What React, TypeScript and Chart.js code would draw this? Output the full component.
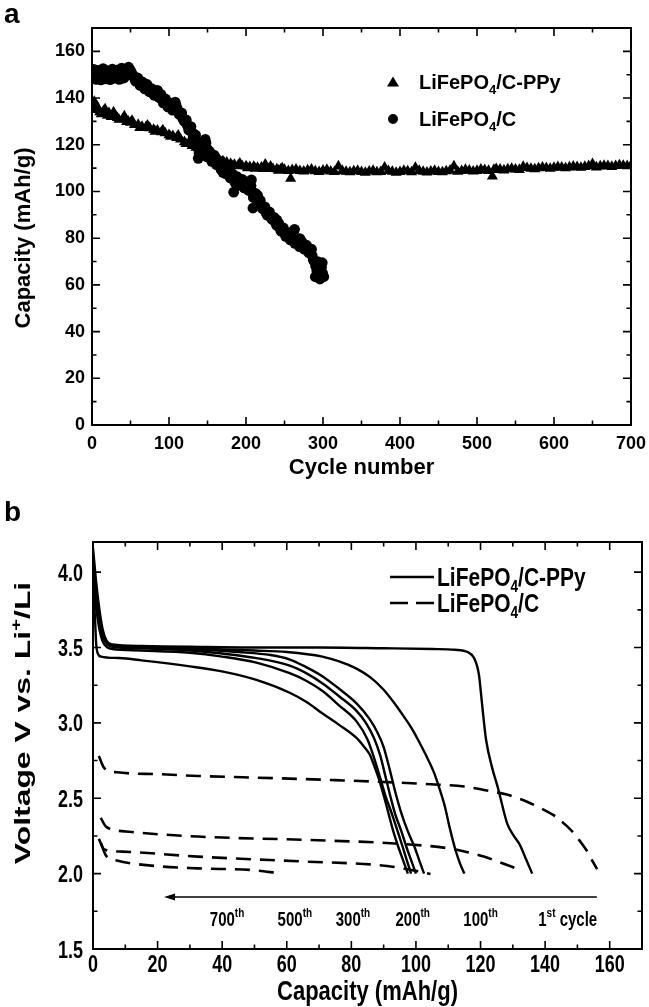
import React, { useEffect, useRef } from "react";
import { Chart, registerables } from "chart.js";

Chart.register(...registerables);

const FONT = "'Liberation Sans', Arial, Helvetica, sans-serif";

// ---------------- Panel a : capacity vs cycle number ----------------
const cycleTicks = [0, 100, 200, 300, 400, 500, 600, 700];
const capacityTicks = [0, 20, 40, 60, 80, 100, 120, 140, 160];

// LiFePO4/C-PPy (triangles): [cycle, capacity]
const ppyPoints: [number, number][] = [
  [0, 137.5], [2, 135.5], [3, 138.5], [5, 135], [7, 136.2], [10, 134], [12, 133.2], [15, 134.5], [17, 135.2],
  [20, 132.5], [22, 133.6], [25, 132], [28, 134], [30, 132.5], [33, 131.5], [35, 130.8], [40, 131], [42, 132.3],
  [45, 129.8], [47, 130], [50, 129.5], [52, 130.3], [55, 128.5], [60, 128.6], [62, 127.3], [65, 127.8], [70, 127.5],
  [72, 128.3], [75, 127.2], [80, 126.5], [82, 125.7], [85, 126.2], [90, 125.4], [92, 126.3], [95, 125], [100, 124.2],
  [102, 123.5], [105, 123.8], [110, 123], [112, 124], [115, 122.3], [120, 121.2], [122, 120.4], [125, 120.5],
  [130, 119.6], [132, 120], [135, 118.8], [140, 117.9], [142, 117], [145, 117.2], [150, 116.2], [152, 115.5],
  [155, 115.3], [160, 114.4], [162, 113.8], [165, 113.6], [170, 113], [172, 112.2], [175, 112.4], [180, 111.9],
  [182, 111], [185, 111.5], [190, 111.3], [192, 112], [195, 110.9], [200, 110.8], [202, 110], [205, 110.5],
  [210, 110.6], [212, 109.8], [215, 110.2], [220, 110.3], [222, 109.7], [225, 111.6], [230, 109.9], [232, 110.7],
  [235, 109.7], [240, 109.6], [242, 109], [245, 109.4], [247, 110], [250, 109.3], [255, 108.8], [258, 105.5],
  [260, 109.2], [265, 109.5], [270, 108.8], [275, 108.6], [280, 109.1], [285, 109.5], [290, 108.7], [295, 108.4],
  [300, 109], [305, 109.3], [310, 108.6], [315, 108.4], [320, 110.8], [325, 108.9], [330, 108.5], [335, 108.3],
  [340, 108.7], [345, 108.9], [350, 108.4], [355, 108.1], [360, 108.6], [365, 108.9], [370, 108.3], [375, 108.4],
  [380, 110.3], [385, 108.8], [390, 108.5], [395, 108.1], [400, 108.4], [405, 108.9], [410, 108.7], [415, 108.3],
  [420, 110.2], [425, 108.9], [430, 108.5], [435, 108.2], [440, 108.6], [445, 108.9], [450, 108.4], [455, 108.3],
  [460, 108.7], [465, 109], [470, 110.8], [475, 108.5], [480, 108.8], [485, 109.3], [490, 109], [495, 108.6],
  [500, 108.9], [505, 109.5], [510, 109.2], [515, 108.9], [520, 106.5], [522, 109.3], [525, 109.7], [530, 109.4],
  [535, 109.1], [540, 109.6], [545, 109.8], [550, 109.5], [555, 109.3], [560, 110.6], [565, 110.1], [570, 109.8],
  [575, 109.6], [580, 110], [585, 110.3], [590, 110.1], [595, 109.8], [600, 110.2], [605, 110.5], [610, 110.3],
  [615, 110], [620, 110.4], [625, 110.7], [630, 110.5], [635, 110.2], [640, 110.6], [645, 110.9], [650, 111.8],
  [655, 110.4], [660, 110.8], [665, 111.1], [670, 110.9], [675, 110.6], [680, 111], [685, 111.3], [690, 111.1],
  [695, 110.9], [700, 111.2],
];

// LiFePO4/C (circles): [cycle, capacity]
const carbonPoints: [number, number][] = [
  [1, 149.5], [4, 150.5], [7, 149], [10, 151], [13, 150], [16, 151], [19, 149], [22, 150.8], [25, 149.8], [28, 151.3],
  [31, 149.5], [34, 151], [37, 149.3], [40, 151.5], [43, 150.3], [46, 152], [49, 152.3], [52, 150.3], [55, 148.5],
  [58, 147.5], [61, 146.8], [64, 146], [67, 145], [70, 144.5], [73, 143.8], [76, 143], [79, 142.3], [82, 141.8],
  [85, 142.5], [88, 140.2], [91, 139.3], [94, 138.5], [97, 137.3], [100, 136.5], [103, 135.8], [106, 136], [109, 137.2],
  [112, 134.2], [115, 132.8], [118, 131.3], [121, 129.8], [124, 128.3], [127, 127], [130, 125.3], [133, 123.5],
  [136, 120.8], [139, 116.5], [142, 118.3], [145, 119.5], [148, 120.8], [151, 116.3], [154, 114.5], [157, 114.8],
  [160, 113], [163, 112], [166, 111.2], [169, 110.3], [172, 109.5], [175, 108.8], [178, 107.8], [181, 106.5],
  [184, 105.5], [187, 105.8], [190, 104.5], [193, 104], [196, 103.3], [199, 102.8], [202, 101.8], [205, 104], [208, 100],
  [211, 98.5], [214, 97], [217, 95], [220, 94], [223, 92.5], [226, 91], [229, 90], [232, 89.3], [235, 88], [238, 87],
  [241, 85.5], [244, 84.3], [247, 83], [250, 82.3], [253, 81], [256, 80.3], [259, 79.8], [262, 83], [265, 79], [268, 78],
  [271, 77.3], [274, 76.8], [277, 76], [280, 75], [283, 74], [286, 72.5], [289, 70], [292, 66], [295, 64.5], [298, 67.5],
  [301, 63.5],
  [2, 148.3], [8, 151.8], [14, 148.5], [20, 151.6], [26, 148.4], [32, 152], [38, 148.6], [44, 152.5], [47, 151],
  [138, 114.2], [184, 99.7], [209, 92.9], [108, 138.3], [85, 143.3], [147, 122.3], [207, 105], [263, 83.8], [296, 62.5],
  [299, 69.5], [293, 70], [290, 63.5], [150, 118], [170, 108.2], [195, 105.2], [215, 98.3], [240, 87.8], [270, 79.8],
  [285, 75.3],
  [2.5, 152.3], [5.5, 148], [8.5, 150.2], [11.5, 147.8], [14.5, 152.6], [17.5, 148.2], [20.5, 150], [23.5, 147.9],
  [26.5, 152.4], [29.5, 148.5], [32.5, 150.3], [35.5, 148], [38.5, 152.8], [41.5, 148.6], [44.5, 150.8], [47.5, 153.2],
  [50.5, 151.5], [53.5, 149.6], [56.5, 147.2], [59.5, 148.6], [62.5, 145.4], [65.5, 146.9], [68.5, 143.9], [71.5, 145.8],
  [74.5, 142.7], [77.5, 144], [80.5, 141.2], [83.5, 143.1], [86.5, 140.4], [89.5, 141.6], [92.5, 137.9], [95.5, 139.6],
  [98.5, 136.2], [101.5, 137.8], [104.5, 134.8], [107.5, 137.6], [110.5, 135.6], [113.5, 133], [116.5, 133.6],
  [119.5, 130.2], [122.5, 130.6], [125.5, 126.4], [128.5, 127.8], [131.5, 123.2], [134.5, 124.2], [137.5, 118.5],
  [140.5, 121], [143.5, 116.8], [146.5, 118], [149.5, 114.8], [152.5, 117.2], [155.5, 112.9], [158.5, 115.6],
  [161.5, 111.5], [164.5, 113.2], [167.5, 109.4], [170.5, 111.3], [173.5, 107.6], [176.5, 109.7], [179.5, 105.8],
  [182.5, 107.6], [185.5, 103.9], [188.5, 106.3], [191.5, 102.7], [194.5, 104.9], [197.5, 101.5], [200.5, 103.9],
  [203.5, 100.4], [206.5, 102.4], [209.5, 97.4], [212.5, 99.2], [215.5, 95.3], [218.5, 96.2], [221.5, 92.6],
  [224.5, 93.4], [227.5, 89.8], [230.5, 91.2], [233.5, 88.1], [236.5, 88.9], [239.5, 85.6], [242.5, 86.4], [245.5, 83],
  [248.5, 84.4], [251.5, 80.8], [254.5, 82.4], [257.5, 79.2], [260.5, 81.4], [263.5, 77.8], [266.5, 79.7], [269.5, 76.4],
  [272.5, 78.4], [275.5, 75.3], [278.5, 77], [281.5, 73.8], [284.5, 74.9], [287.5, 70.6], [290.5, 68], [293.5, 63.2],
  [296.5, 66.6], [299.5, 65],
];

// ---------------- Panel b : discharge curves ----------------
const capacityTicksB = [0, 20, 40, 60, 80, 100, 120, 140, 160];
const voltageTicks = [1.5, 2.0, 2.5, 3.0, 3.5, 4.0];

// LiFePO4/C-PPy (solid) [capacity, voltage]
const ppyCycle1: [number, number][] = [
  [0, 4.16], [1, 3.93], [2, 3.75], [3, 3.62], [4.2, 3.545], [6, 3.52], [15, 3.51], [30, 3.505], [50, 3.5], [70, 3.5],
  [90, 3.495], [105, 3.49], [112, 3.485], [116, 3.47], [118, 3.43], [119.5, 3.32], [120.5, 3.12], [121.7, 2.89],
  [123.5, 2.71], [125.5, 2.56], [127, 2.43], [128.3, 2.33], [130, 2.26], [132.2, 2.19], [134, 2.1], [136, 2.0],
];
const ppyCycle100: [number, number][] = [
  [0, 4.1], [1, 3.88], [2, 3.7], [3, 3.6], [4.2, 3.54], [6, 3.51], [15, 3.505], [30, 3.495], [50, 3.48], [60, 3.47],
  [71, 3.44], [76, 3.41], [81.6, 3.36], [86, 3.3], [90, 3.22], [93, 3.14], [96, 3.05], [98.5, 2.97], [100.6, 2.89],
  [103, 2.79], [105.6, 2.67], [107.5, 2.55], [108.9, 2.45], [110.5, 2.3], [112.2, 2.16], [113.6, 2.07], [115, 2.0],
];
const ppyCycle200: [number, number][] = [
  [0, 4.05], [1, 3.84], [2, 3.68], [3, 3.58], [4.5, 3.53], [6, 3.51], [15, 3.5], [30, 3.49], [45, 3.47], [55, 3.45],
  [61, 3.42], [66, 3.37], [71, 3.31], [76, 3.23], [81.6, 3.13], [85.5, 3.03], [88, 2.94], [90, 2.84], [92, 2.68],
  [93.5, 2.55], [95.5, 2.4], [97.5, 2.28], [99.5, 2.18], [101, 2.09], [102.5, 2.0],
];
const ppyCycle300: [number, number][] = [
  [0, 4.0], [1, 3.8], [2, 3.65], [3, 3.57], [4.5, 3.52], [6, 3.505], [15, 3.495], [30, 3.48], [40, 3.46], [50.6, 3.43],
  [60.9, 3.38], [66, 3.33], [71.2, 3.26], [76, 3.18], [81.6, 3.08], [84.5, 3.0], [87, 2.9], [89, 2.78], [90.5, 2.65],
  [92, 2.52], [93.5, 2.4], [95.5, 2.28], [97, 2.18], [98.5, 2.09], [100, 2.0],
];
const ppyCycle500: [number, number][] = [
  [0, 3.95], [1, 3.76], [2, 3.62], [3, 3.54], [4.5, 3.5], [6, 3.49], [15, 3.48], [30, 3.465], [40, 3.44], [50.6, 3.4],
  [60.9, 3.33], [66, 3.28], [71.2, 3.21], [76, 3.12], [81.6, 3.01], [85, 2.89], [87, 2.77], [89, 2.63], [90.5, 2.52],
  [92.5, 2.4], [94.5, 2.27], [96, 2.17], [97.3, 2.08], [98.5, 2.0],
];
const ppyCycle700: [number, number][] = [
  [0, 3.92], [0.6, 3.7], [1, 3.52], [1.5, 3.46], [2.5, 3.44], [8, 3.43], [15, 3.415], [30, 3.375], [40.3, 3.34],
  [50.6, 3.285], [60.9, 3.2], [66, 3.14], [71.2, 3.06], [76, 2.99], [81.6, 2.9], [84, 2.84], [85.7, 2.79], [87, 2.72],
  [88.5, 2.63], [90, 2.52], [91.5, 2.4], [93, 2.28], [94.5, 2.18], [96, 2.09], [97.5, 2.0],
];

// LiFePO4/C (dashed)
const carbonCurveA: [number, number][] = [
  [1.8, 2.78], [3.5, 2.7], [7.4, 2.672], [20, 2.66], [32.4, 2.648], [56.8, 2.633], [75, 2.62], [87.8, 2.61],
  [104.5, 2.593], [115, 2.578], [121.1, 2.555], [127.8, 2.526], [134.4, 2.477], [139, 2.43], [143.3, 2.378],
  [146.5, 2.32], [148.9, 2.268], [151, 2.21], [152.8, 2.155], [154.5, 2.09], [156.1, 2.03],
];
const carbonCurveB: [number, number][] = [
  [2.4, 2.37], [4.1, 2.31], [10.2, 2.28], [32.4, 2.246], [65.6, 2.224], [93.4, 2.2], [110, 2.168], [116, 2.142],
  [121, 2.113], [126, 2.075], [131, 2.035],
];
const carbonCurveC: [number, number][] = [
  [1.8, 2.23], [3.5, 2.16], [9.1, 2.146], [32.4, 2.113], [65.6, 2.08], [87.8, 2.058], [96, 2.035], [104.5, 1.998],
];
const carbonCurveD: [number, number][] = [
  [2.5, 2.2], [4, 2.12], [7.4, 2.087], [15.7, 2.058], [32.4, 2.035], [49, 2.024], [57.9, 2.002],
];

const ppyCurves = [ppyCycle1, ppyCycle100, ppyCycle200, ppyCycle300, ppyCycle500, ppyCycle700];
const carbonCurves = [carbonCurveA, carbonCurveB, carbonCurveC, carbonCurveD];

// cycle annotations
const cycleLabelMain = ["700", "500", "300", "200", "100", "1"];
const cycleLabelSup = ["th", "th", "th", "th", "th", "st"];
const cycleLabelTail = ["", "", "", "", "", " cycle"];
const cycleLabelCapacity = [41.5, 62.5, 80.5, 99, 120, 147];
const cycleLabelVoltage = 1.655;
const arrowFromCapacity = 156;
const arrowToCapacity = 22;
const arrowVoltage = 1.845;

// ---------------- helpers ----------------
type Part = { t: string; size: number; dy?: number };

function drawRich(ctx: CanvasRenderingContext2D, parts: Part[], x: number, y: number, align: "left" | "center" | "right", sx = 1, sy = 1) {
  ctx.save();
  ctx.translate(x, y);
  ctx.scale(sx, sy);
  const widths = parts.map((p) => {
    ctx.font = `bold ${p.size}px ${FONT}`;
    return ctx.measureText(p.t).width;
  });
  const total = widths.reduce((a, b) => a + b, 0);
  let cx = align === "left" ? 0 : align === "center" ? -total / 2 : -total;
  ctx.textAlign = "left";
  ctx.textBaseline = "alphabetic";
  parts.forEach((p, i) => {
    ctx.font = `bold ${p.size}px ${FONT}`;
    ctx.fillText(p.t, cx, p.dy || 0);
    cx += widths[i];
  });
  ctx.restore();
}

function mids(arr: number[]) {
  return arr.slice(1).map((v, i) => (v + arr[i]) / 2);
}

function drawFrame(chart: any, xMajor: number[], yMajor: number[], majorLen: number, minorLen: number) {
  const { ctx, chartArea: a } = chart;
  const xs = chart.scales.x;
  const ys = chart.scales.y;
  ctx.save();
  ctx.strokeStyle = "#000";
  ctx.lineWidth = 2;
  ctx.strokeRect(a.left, a.top, a.right - a.left, a.bottom - a.top);
  ctx.lineWidth = 1.6;
  ctx.beginPath();
  const xt = (v: number, len: number) => {
    const p = xs.getPixelForValue(v);
    ctx.moveTo(p, a.bottom);
    ctx.lineTo(p, a.bottom - len);
    ctx.moveTo(p, a.top);
    ctx.lineTo(p, a.top + len);
  };
  const yt = (v: number, len: number) => {
    const p = ys.getPixelForValue(v);
    ctx.moveTo(a.left, p);
    ctx.lineTo(a.left + len, p);
    ctx.moveTo(a.right, p);
    ctx.lineTo(a.right - len, p);
  };
  xMajor.forEach((v) => xt(v, majorLen));
  mids(xMajor).forEach((v) => xt(v, minorLen));
  yMajor.forEach((v) => yt(v, majorLen));
  mids(yMajor).forEach((v) => yt(v, minorLen));
  ctx.stroke();
  ctx.restore();
}

function baseScale(ticksArr: number[], min: number, max: number, size: number, pad: number, fit: (s: any) => void, showLabels = true) {
  return {
    type: "linear" as const,
    min,
    max,
    afterBuildTicks: (s: any) => {
      s.ticks = ticksArr.map((v) => ({ value: v }));
    },
    afterFit: (s: any) => {
      fit(s);
      s.paddingLeft = 0;
      s.paddingRight = 0;
      s.paddingTop = 0;
      s.paddingBottom = 0;
    },
    grid: { display: false, drawTicks: false },
    border: { display: false },
    ticks: {
      display: showLabels,
      color: "#000",
      padding: pad,
      autoSkip: false,
      maxRotation: 0,
      font: { family: FONT, size, weight: "bold" as const },
    },
  };
}

// ---------------- component ----------------
export default function App() {
  const topRef = useRef<HTMLCanvasElement | null>(null);
  const botRef = useRef<HTMLCanvasElement | null>(null);

  useEffect(() => {
    const topPlugin = {
      id: "topDecor",
      afterDraw(chart: any) {
        const { ctx, chartArea: a } = chart;
        drawFrame(chart, cycleTicks, capacityTicks, 8, 4.5);
        ctx.save();
        ctx.fillStyle = "#000";
        drawRich(ctx, [{ t: "a", size: 28 }], 4, 23, "left");
        drawRich(ctx, [{ t: "Cycle number", size: 22 }], (a.left + a.right) / 2, 474, "center");
        ctx.save();
        ctx.translate(30, 238);
        ctx.rotate(-Math.PI / 2);
        drawRich(ctx, [{ t: "Capacity (mAh/g)", size: 22 }], 0, 0, "center");
        ctx.restore();
        // legend
        const lx = 393;
        const r1 = 82;
        const r2 = 119;
        ctx.beginPath();
        ctx.moveTo(lx, r1 - 5.5);
        ctx.lineTo(lx + 6, r1 + 4.5);
        ctx.lineTo(lx - 6, r1 + 4.5);
        ctx.closePath();
        ctx.fill();
        ctx.beginPath();
        ctx.arc(lx, r2, 5, 0, Math.PI * 2);
        ctx.fill();
        drawRich(ctx, [{ t: "LiFePO", size: 20 }, { t: "4", size: 13, dy: 5 }, { t: "/C-PPy", size: 20 }], 419, r1 + 7, "left");
        drawRich(ctx, [{ t: "LiFePO", size: 20 }, { t: "4", size: 13, dy: 5 }, { t: "/C", size: 20 }], 419, r2 + 7, "left");
        ctx.restore();
      },
    };

    const STRETCH = 1.3;
    const botPlugin = {
      id: "botDecor",
      afterDraw(chart: any) {
        const { ctx, chartArea: a } = chart;
        const xs = chart.scales.x;
        const ys = chart.scales.y;
        drawFrame(chart, capacityTicksB, voltageTicks, 8, 4.5);
        ctx.save();
        ctx.fillStyle = "#000";
        ctx.strokeStyle = "#000";
        // tick labels (vertically stretched like the reference panel)
        capacityTicksB.forEach((v) => {
          drawRich(ctx, [{ t: String(v), size: 18 }], xs.getPixelForValue(v), a.bottom + 22.5, "center", 1, STRETCH + 0.05);
        });
        voltageTicks.forEach((v) => {
          drawRich(ctx, [{ t: v.toFixed(1), size: 18 }], a.left - 10, ys.getPixelForValue(v) + 8.5, "right", 1, STRETCH + 0.05);
        });
        drawRich(ctx, [{ t: "b", size: 28 }], 4, 36, "left");
        drawRich(ctx, [{ t: "Capacity (mAh/g)", size: 22 }], (a.left + a.right) / 2, 515, "center", 1, STRETCH - 0.05);
        ctx.save();
        ctx.translate(30, 238);
        ctx.rotate(-Math.PI / 2);
        drawRich(ctx, [{ t: "Voltage V vs. Li", size: 22 }, { t: "+", size: 14, dy: -9 }, { t: "/Li", size: 22 }], 0, 0, "center", 1.45, 1);
        ctx.restore();
        // legend
        const r1 = 92;
        const r2 = 118;
        ctx.lineWidth = 2.5;
        ctx.beginPath();
        ctx.moveTo(390, r1);
        ctx.lineTo(434, r1);
        ctx.stroke();
        ctx.setLineDash([18, 8]);
        ctx.beginPath();
        ctx.moveTo(390, r2);
        ctx.lineTo(434, r2);
        ctx.stroke();
        ctx.setLineDash([]);
        drawRich(ctx, [{ t: "LiFePO", size: 20 }, { t: "4", size: 13, dy: 5 }, { t: "/C-PPy", size: 20 }], 437, r1 + 9, "left", 1.05, 1.25);
        drawRich(ctx, [{ t: "LiFePO", size: 20 }, { t: "4", size: 13, dy: 5 }, { t: "/C", size: 20 }], 437, r2 + 9, "left", 1.05, 1.25);
        // arrow
        const ay = ys.getPixelForValue(arrowVoltage);
        const ax0 = xs.getPixelForValue(arrowFromCapacity);
        const ax1 = xs.getPixelForValue(arrowToCapacity);
        ctx.lineWidth = 1.5;
        ctx.beginPath();
        ctx.moveTo(ax0, ay);
        ctx.lineTo(ax1 + 6, ay);
        ctx.stroke();
        ctx.beginPath();
        ctx.moveTo(ax1, ay);
        ctx.lineTo(ax1 + 11, ay - 3.5);
        ctx.lineTo(ax1 + 11, ay + 3.5);
        ctx.closePath();
        ctx.fill();
        // cycle labels
        const ly = ys.getPixelForValue(cycleLabelVoltage);
        cycleLabelMain.forEach((m, i) => {
          const parts: Part[] = [{ t: m, size: 15 }, { t: cycleLabelSup[i], size: 10, dy: -7 }];
          if (cycleLabelTail[i]) parts.push({ t: cycleLabelTail[i], size: 15 });
          drawRich(ctx, parts, xs.getPixelForValue(cycleLabelCapacity[i]), ly, "center", 1, STRETCH);
        });
        ctx.restore();
      },
    };

    const top = new Chart(topRef.current as HTMLCanvasElement, {
      type: "scatter",
      data: {
        datasets: [
          {
            label: "LiFePO4/C-PPy",
            data: ppyPoints.map(([x, y]) => ({ x, y })),
            pointStyle: "triangle",
            pointRadius: 6.4,
            backgroundColor: "#000",
            borderColor: "#000",
            borderWidth: 0,
          },
          {
            label: "LiFePO4/C",
            data: carbonPoints.map(([x, y]) => ({ x, y })),
            pointStyle: "circle",
            pointRadius: 5.4,
            backgroundColor: "#000",
            borderColor: "#000",
            borderWidth: 0,
          },
        ],
      },
      options: {
        responsive: false,
        animation: false,
        devicePixelRatio: 1,
        layout: { padding: { left: 0, right: 18, top: 28, bottom: 0 } },
        plugins: { legend: { display: false }, tooltip: { enabled: false } },
        scales: {
          x: baseScale(cycleTicks, 0, 700, 18, 8, (s) => { s.height = 60; }),
          y: baseScale(capacityTicks, 0, 170, 18, 7, (s) => { s.width = 92; }),
        },
      } as any,
      plugins: [topPlugin],
    });

    const datasets: any[] = [];
    ppyCurves.forEach((c, i) => {
      datasets.push({
        label: i === 0 ? "LiFePO4/C-PPy" : "",
        data: c.map(([x, y]) => ({ x, y })),
        showLine: true,
        pointRadius: 0,
        borderColor: "#000",
        borderWidth: 2.4,
        cubicInterpolationMode: "monotone",
        fill: false,
      });
    });
    carbonCurves.forEach((c, i) => {
      datasets.push({
        label: i === 0 ? "LiFePO4/C" : "",
        data: c.map(([x, y]) => ({ x, y })),
        showLine: true,
        pointRadius: 0,
        borderColor: "#000",
        borderWidth: 2.6,
        borderDash: [15, 9],
        cubicInterpolationMode: "monotone",
        fill: false,
      });
    });

    const bot = new Chart(botRef.current as HTMLCanvasElement, {
      type: "scatter",
      data: { datasets },
      options: {
        responsive: false,
        animation: false,
        devicePixelRatio: 1,
        layout: { padding: { left: 0, right: 7, top: 57, bottom: 0 } },
        plugins: { legend: { display: false }, tooltip: { enabled: false } },
        scales: {
          x: baseScale(capacityTicksB, 0, 170, 18, 5, (s) => { s.height = 58; }, false),
          y: baseScale(voltageTicks, 1.5, 4.2, 18, 10, (s) => { s.width = 93; }, false),
        },
      } as any,
      plugins: [botPlugin],
    });

    return () => {
      top.destroy();
      bot.destroy();
    };
  }, []);

  return (
    <div style={{ position: "absolute", left: 0, top: 0, width: 649, height: 1007, background: "#fff" }}>
      <canvas ref={topRef} width={649} height={485} style={{ position: "absolute", left: 0, top: 0, width: 649, height: 485 }} />
      <canvas ref={botRef} width={649} height={522} style={{ position: "absolute", left: 0, top: 485, width: 649, height: 522 }} />
    </div>
  );
}
